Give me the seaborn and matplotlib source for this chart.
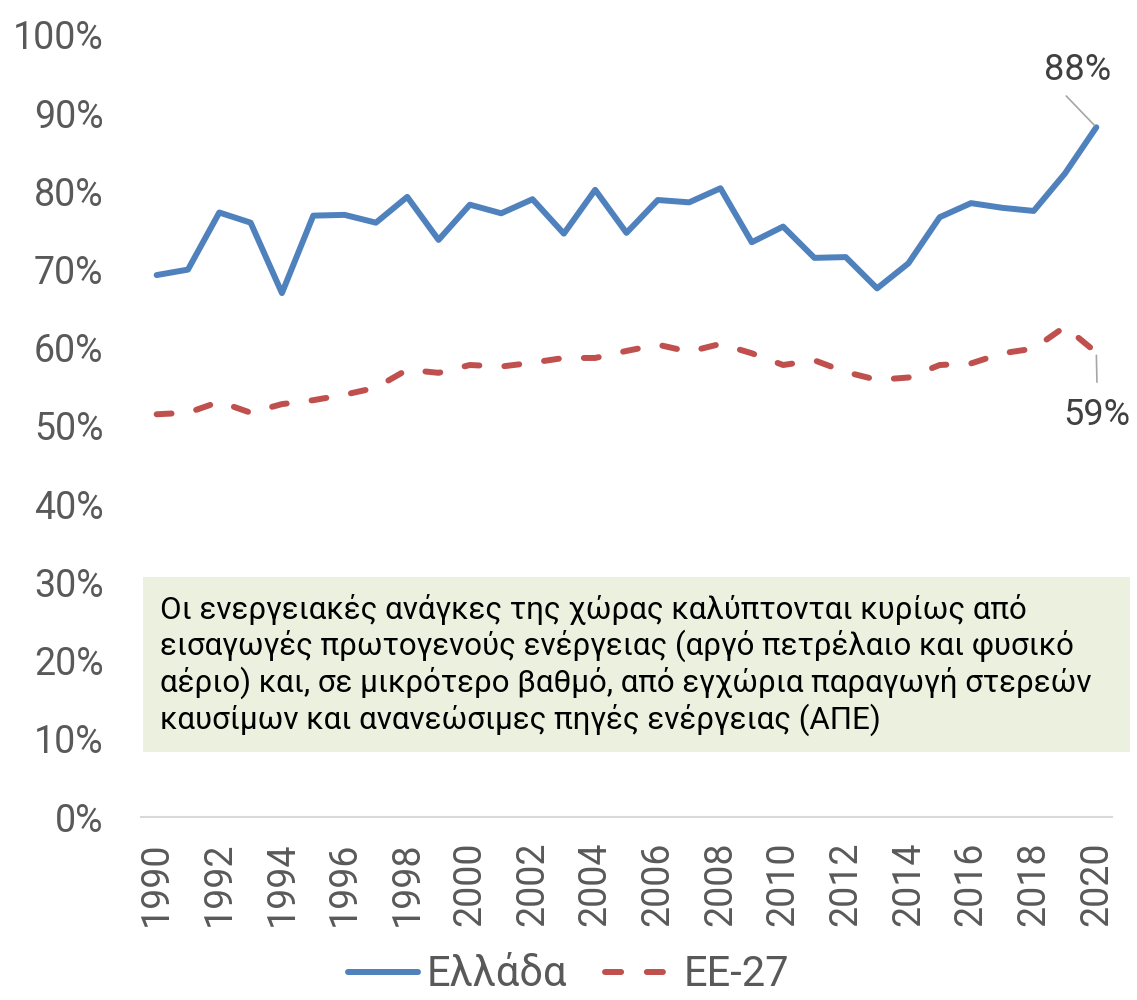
import numpy as np
import pandas as pd
import matplotlib
matplotlib.use("Agg")
import matplotlib.pyplot as plt
import seaborn as sns
from matplotlib.lines import Line2D
from matplotlib.patches import Rectangle

years = list(range(1990, 2021))
greece = [69.3, 70.0, 77.3, 76.0, 67.0, 76.9, 77.0, 76.0, 79.3, 73.8,
          78.3, 77.2, 79.0, 74.6, 80.2, 74.7, 78.9, 78.6, 80.4, 73.5,
          75.5, 71.5, 71.6, 67.6, 70.8, 76.7, 78.5, 77.9, 77.5, 82.3, 88.2]
eu27 = [51.5, 51.7, 53.1, 51.7, 52.8, 53.3, 54.0, 54.9, 57.2, 56.8,
        57.8, 57.6, 58.1, 58.7, 58.7, 59.6, 60.4, 59.5, 60.5, 59.3,
        57.8, 58.4, 56.9, 55.9, 56.2, 57.8, 58.0, 59.3, 59.9, 62.7, 59.4]
series_names = ["Ελλάδα", "ΕΕ-27"]
note = ("Οι ενεργειακές ανάγκες της χώρας καλύπτονται κυρίως από\n"
        "εισαγωγές πρωτογενούς ενέργειας (αργό πετρέλαιο και φυσικό\n"
        "αέριο) και, σε μικρότερο βαθμό, από εγχώρια παραγωγή στερεών\n"
        "καυσίμων και ανανεώσιμες πηγές ενέργειας (ΑΠΕ)")

df = pd.DataFrame({"year": years * 2,
                   "value": np.array(greece + eu27) / 100,
                   "series": [series_names[0]] * len(years) + [series_names[1]] * len(years)})

sns.set_style("white")
plt.rcParams['font.family'] = ['Roboto', 'DejaVu Sans']
gray = "#595959"
blue = "#4F81BD"
red = "#C0504D"
lw = 4.3

fig = plt.figure(figsize=(11.37, 10), dpi=100)
ax = fig.add_axes([0.124, 0.183, 0.854, 0.782])

sns.lineplot(data=df[df.series == series_names[0]], x="year", y="value",
             color=blue, lw=lw, ax=ax, legend=False)
sns.lineplot(data=df[df.series == series_names[1]], x="year", y="value",
             color=red, lw=lw, ax=ax, legend=False)
ax.lines[1].set_dashes([2.5, 4.2])
ax.lines[1].set_dash_capstyle("round")
ax.lines[0].set_solid_capstyle("round")

ax.set_xlim(1989.5, 2020.5)
ax.set_ylim(0, 1)
ax.set_yticks(np.arange(0, 1.01, 0.1))
ax.set_yticklabels([f"{int(round(v*100))}%" for v in np.arange(0, 1.01, 0.1)])
ax.set_xticks(years[::2])
ax.set_xticklabels([str(y) for y in years[::2]], rotation=90)
ax.tick_params(axis="both", labelsize=27, colors=gray, length=0)
ax.tick_params(axis="y", pad=27)
ax.tick_params(axis="x", pad=18)
ax.set_xlabel("")
ax.set_ylabel("")
for s in ["top", "right", "left"]:
    ax.spines[s].set_visible(False)
ax.spines["bottom"].set_color("#D9D9D9")
ax.spines["bottom"].set_linewidth(1.5)

# end labels with leader lines
ax.annotate("", xy=(years[-1], greece[-1] / 100), xytext=(2019.04, 0.922),
            arrowprops=dict(arrowstyle="-", color="#A6A6A6", lw=1.2,
                            shrinkA=0, shrinkB=2))
ax.text(2019.4, 0.955, f"{greece[-1]:.0f}%", ha="center", va="center",
        fontsize=26, color="#404040")
ax.annotate("", xy=(years[-1], eu27[-1] / 100), xytext=(years[-1] + 0.02, 0.556),
            arrowprops=dict(arrowstyle="-", color="#A6A6A6", lw=1.2,
                            shrinkA=0, shrinkB=2), annotation_clip=False)
ax.text(2020.03, 0.514, f"{eu27[-1]:.0f}%", ha="center", va="center",
        fontsize=26, color="#404040", clip_on=False)

# note box
fig.patches.append(Rectangle((143 / 1137, 1 - 752 / 1000), (1130 - 143) / 1137,
                             (752 - 577) / 1000, transform=fig.transFigure,
                             facecolor="#EBF1DE", edgecolor="none", zorder=0))
fig.text(160 / 1137, 1 - 665 / 1000, note, ha="left", va="center",
         fontsize=22.5, color="black", linespacing=1.18)

handles = [Line2D([], [], color=blue, lw=lw, solid_capstyle="round"),
           Line2D([], [], color=red, lw=lw, dashes=[2.7, 4.3], dash_capstyle="round")]
leg = fig.legend(handles, series_names, loc="center", bbox_to_anchor=(0.5, 0.025),
                 ncol=2, frameon=False, handlelength=1.7, columnspacing=0.9,
                 handletextpad=0.2, prop={"size": 30})
for t in leg.get_texts():
    t.set_color(gray)

fig.savefig("out.png", dpi=100)
